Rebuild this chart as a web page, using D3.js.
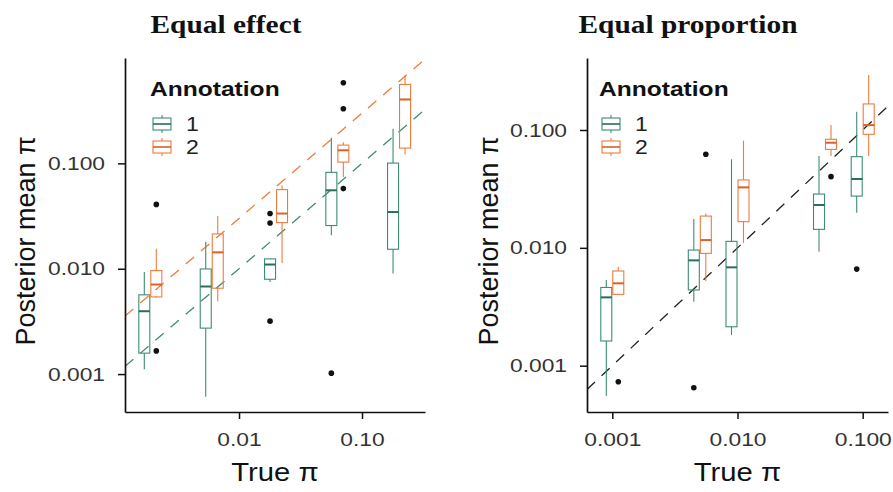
<!DOCTYPE html>
<html><head><meta charset="utf-8">
<script src="https://cdn.jsdelivr.net/npm/d3@7"></script>
<style>body{margin:0;background:#fff}svg{display:block}</style>
</head><body><svg id="c" width="893" height="492"></svg>
<script>
// ---------- data ----------
const annotations = ["1", "2"];
const colors = ["#3C8C76", "#EE7B3C"];
const medianColors = ["#2B6E5B", "#D9622A"];

const titles = ["Equal effect", "Equal proportion"];
const yTickValues = [0.001, 0.01, 0.1];
const yTickLabels = ["0.001", "0.010", "0.100"];

// Equal effect panel
const effectTrue = [0.0019, 0.006, 0.02, 0.063, 0.2];
// [lower whisker, Q1, median, Q3, upper whisker]
const effectAnn1 = [
  [0.00111, 0.00158, 0.00395, 0.00565, 0.0093],
  [0.00061, 0.00273, 0.00678, 0.00995, 0.0180],
  [0.0075, 0.00794, 0.01096, 0.0124, 0.0125],
  [0.0208, 0.0257, 0.0555, 0.0822, 0.175],
  [0.0090, 0.0153, 0.0345, 0.1006, 0.213]
];
const effectAnn2 = [
  [0.0053, 0.0054, 0.00708, 0.0096, 0.0155],
  [0.00492, 0.00653, 0.0143, 0.0214, 0.0317],
  [0.01135, 0.0274, 0.0334, 0.0563, 0.0618],
  [0.0741, 0.1028, 0.133, 0.149, 0.159],
  [0.1216, 0.1396, 0.404, 0.561, 0.682]
];
// [group index, value]
const effectOut1 = [[2, 0.00318], [2, 0.0272], [2, 0.0334], [3, 0.00102]];
const effectOut2 = [[0, 0.00166], [0, 0.0408], [3, 0.0576], [3, 0.33], [3, 0.582]];
const effectRefFactors = [1, 3];
const effectXTicks = [0.01, 0.1];
const effectXLabels = ["0.01", "0.10"];

// Equal proportion panel
const propTrue = [0.001, 0.005, 0.01, 0.05, 0.1];
const propAnn1 = [
  [0.000552, 0.00162, 0.0038, 0.00461, 0.00533],
  [0.00349, 0.00439, 0.00783, 0.00958, 0.0176],
  [0.00182, 0.00214, 0.00683, 0.01135, 0.0564],
  [0.00927, 0.01435, 0.0231, 0.0286, 0.0601],
  [0.01986, 0.0275, 0.0384, 0.0594, 0.143]
];
const propAnn2 = [
  [0.0040, 0.00403, 0.0050, 0.00636, 0.00692],
  [0.00522, 0.00898, 0.01164, 0.0186, 0.0196],
  [0.01104, 0.01667, 0.0326, 0.0377, 0.0811],
  [0.0601, 0.0685, 0.078, 0.0834, 0.110],
  [0.0601, 0.0919, 0.110, 0.1664, 0.293]
];
const propOut1 = [[1, 0.00065], [4, 0.0066]];
const propOut2 = [[0, 0.00073], [1, 0.0622], [3, 0.0402]];
const propRefFactors = [1];
const propXTicks = [0.001, 0.01, 0.1];
const propXLabels = ["0.001", "0.010", "0.100"];

// ---------- drawing ----------
const svg = d3.select("#c");
svg.append("rect").attr("width", 893).attr("height", 492).attr("fill", "#fff");

function widen(sel, k) {
  sel.each(function () {
    const w = this.getComputedTextLength();
    d3.select(this).attr("textLength", w * k).attr("lengthAdjust", "spacingAndGlyphs");
  });
}

const panels = [
  { title: titles[0], titleX: 226, x0: 125, x1: 425, y0: 58, y1: 412,
    xDom: [Math.pow(10, -2.927), Math.pow(10, -0.488)], yDom: [Math.pow(10, -3.36), 1],
    trueVals: effectTrue, stats: [effectAnn1, effectAnn2], outs: [effectOut1, effectOut2],
    refs: effectRefFactors, refColors: colors, xTicks: effectXTicks, xLabels: effectXLabels,
    legX: 152, yTitleX: 35 },
  { title: titles[1], titleX: 688, x0: 587, x1: 888, y0: 58, y1: 412,
    xDom: [Math.pow(10, -3.202), Math.pow(10, -0.798)], yDom: [Math.pow(10, -3.393), Math.pow(10, -0.389)],
    trueVals: propTrue, stats: [propAnn1, propAnn2], outs: [propOut1, propOut2],
    refs: propRefFactors, refColors: ["#222"], xTicks: propXTicks, xLabels: propXLabels,
    legX: 601, yTitleX: 498 }
];

const boxW = 12;
const sans = "'Liberation Sans', Arial, sans-serif";

panels.forEach((p, pi) => {
  const x = d3.scaleLog().domain(p.xDom).range([p.x0, p.x1]);
  const y = d3.scaleLog().domain(p.yDom).range([p.y1, p.y0]);
  const g = svg.append("g");

  // title
  const t = g.append("text").attr("x", p.titleX).attr("y", 33).attr("text-anchor", "middle")
    .attr("font-family", "'Liberation Serif', serif").attr("font-weight", "bold")
    .attr("font-size", 26).attr("fill", "#111").text(p.title);
  widen(t, 1.13);

  // clip
  const clipId = "clip" + pi;
  svg.append("clipPath").attr("id", clipId).append("rect")
    .attr("x", p.x0).attr("y", p.y0).attr("width", p.x1 - p.x0).attr("height", p.y1 - p.y0);

  // reference lines
  p.refs.forEach((f, i) => {
    const xs = p.xDom;
    g.append("line").attr("clip-path", `url(#${clipId})`)
      .attr("x1", x(xs[0])).attr("y1", y(xs[0] * f))
      .attr("x2", x(xs[1])).attr("y2", y(xs[1] * f))
      .attr("stroke", p.refColors[i]).attr("stroke-width", 1.3)
      .attr("stroke-dasharray", "11,9");
  });

  // boxes
  p.stats.forEach((arr, a) => {
    arr.forEach((s, gi) => {
      const cx = x(p.trueVals[gi]) + (a === 0 ? -boxW / 2 : boxW / 2);
      const bg = g.append("g");
      bg.append("line").attr("x1", cx).attr("x2", cx).attr("y1", y(s[0])).attr("y2", y(s[1]))
        .attr("stroke", colors[a]).attr("stroke-width", 1.1);
      bg.append("line").attr("x1", cx).attr("x2", cx).attr("y1", y(s[3])).attr("y2", y(s[4]))
        .attr("stroke", colors[a]).attr("stroke-width", 1.1);
      bg.append("rect").attr("x", cx - boxW / 2 + 0.5).attr("width", boxW - 1)
        .attr("y", y(s[3])).attr("height", y(s[1]) - y(s[3]))
        .attr("fill", "none").attr("stroke", colors[a]).attr("stroke-width", 1.1);
      bg.append("line").attr("x1", cx - boxW / 2 + 0.5).attr("x2", cx + boxW / 2 - 0.5)
        .attr("y1", y(s[2])).attr("y2", y(s[2]))
        .attr("stroke", medianColors[a]).attr("stroke-width", 2);
    });
    p.outs[a].forEach(o => {
      const cx = x(p.trueVals[o[0]]) + (a === 0 ? -boxW / 2 : boxW / 2);
      g.append("circle").attr("cx", cx).attr("cy", y(o[1])).attr("r", 2.8).attr("fill", "#111");
    });
  });

  // axes
  const ya = d3.axisLeft(y).tickValues(yTickValues).tickFormat((d, i) => yTickLabels[i])
    .tickSizeInner(7).tickSizeOuter(0).tickPadding(13);
  const yg = g.append("g").attr("transform", `translate(${p.x0},0)`).call(ya);
  const xa = d3.axisBottom(x).tickValues(p.xTicks).tickFormat((d, i) => p.xLabels[i])
    .tickSizeInner(7).tickSizeOuter(0).tickPadding(14);
  const xg = g.append("g").attr("transform", `translate(0,${p.y1})`).call(xa);
  [yg, xg].forEach(ax => {
    ax.select(".domain").attr("stroke", "#111").attr("stroke-width", 1.7);
    ax.selectAll(".tick line").attr("stroke", "#111").attr("stroke-width", 1.5);
    const tt = ax.selectAll(".tick text").attr("font-family", sans)
      .attr("font-size", 19).attr("fill", "#333");
    widen(tt, 1.2);
  });

  // axis titles
  const xt = g.append("text").attr("x", (p.x0 + p.x1) / 2).attr("y", 481).attr("text-anchor", "middle")
    .attr("font-family", sans).attr("font-size", 25).attr("fill", "#111")
    .text("True π");
  widen(xt, 1.17);
  g.append("text").attr("transform", `translate(${p.yTitleX},${(p.y0 + p.y1) / 2 + 6}) rotate(-90)`)
    .attr("text-anchor", "middle")
    .attr("font-family", sans).attr("font-size", 27).attr("fill", "#111")
    .text("Posterior mean π");

  // legend
  const lg = g.append("g");
  const lt = lg.append("text").attr("x", p.legX - 2).attr("y", 96)
    .attr("font-family", sans).attr("font-weight", "bold")
    .attr("font-size", 21).attr("fill", "#111").text("Annotation");
  widen(lt, 1.17);
  annotations.forEach((lab, i) => {
    const cy = 124 + i * 23;
    const kx = p.legX + 1, kw = 18;
    lg.append("line").attr("x1", kx + kw / 2).attr("x2", kx + kw / 2).attr("y1", cy - 9).attr("y2", cy + 9)
      .attr("stroke", colors[i]).attr("stroke-width", 1.1);
    lg.append("rect").attr("x", kx).attr("y", cy - 6).attr("width", kw).attr("height", 12)
      .attr("fill", "#fff").attr("stroke", colors[i]).attr("stroke-width", 1.1);
    lg.append("line").attr("x1", kx).attr("x2", kx + kw).attr("y1", cy).attr("y2", cy)
      .attr("stroke", medianColors[i]).attr("stroke-width", 1.6);
    const lt2 = lg.append("text").attr("x", p.legX + 34).attr("y", cy + 7)
      .attr("font-family", sans).attr("font-size", 20)
      .attr("fill", "#222").text(lab);
    widen(lt2, 1.15);
  });
});
</script></body></html>
